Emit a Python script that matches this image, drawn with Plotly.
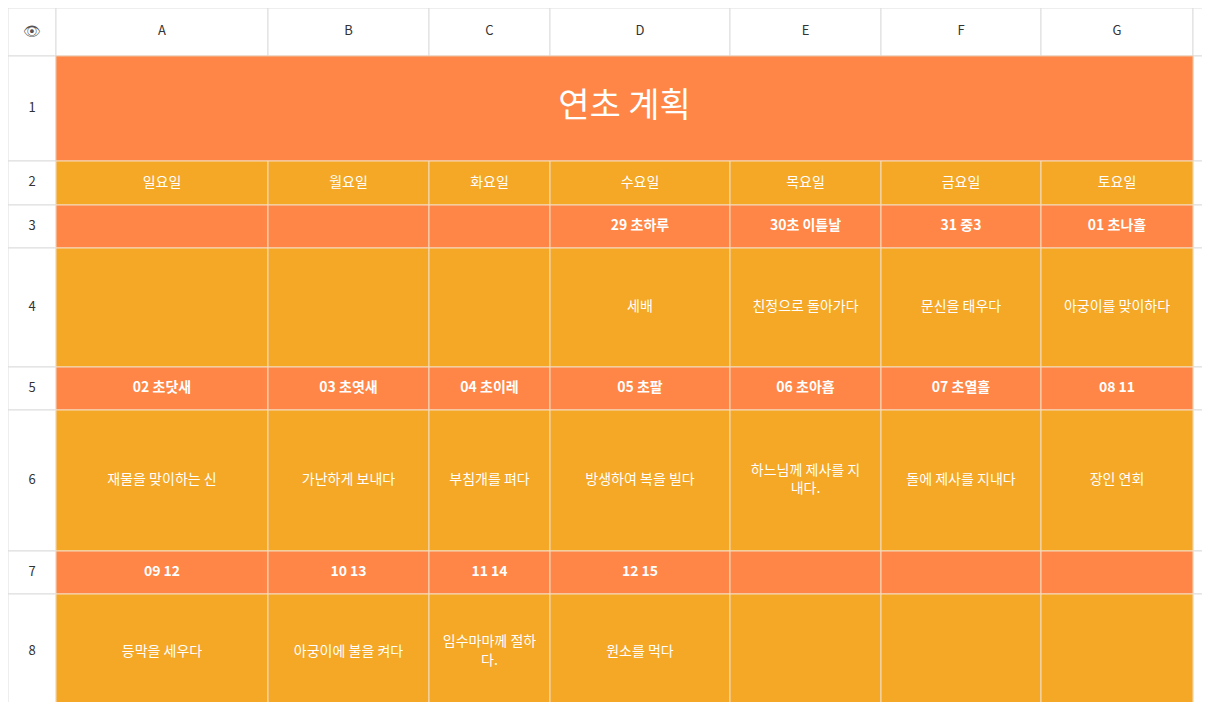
import plotly.graph_objects as go

W, H = 1210, 702
col_letters = ["A", "B", "C", "D", "E", "F", "G"]
row_numbers = ["1", "2", "3", "4", "5", "6", "7", "8"]
title = "연초 계획"
weekdays = ["일요일", "월요일", "화요일", "수요일", "목요일", "금요일", "토요일"]
date_rows = [
    ["", "", "", "29 초하루", "30초 이튿날", "31 중3", "01 초나흘"],
    ["02 초닷새", "03 초엿새", "04 초이레", "05 초팔", "06 초아흡", "07 초열흘", "08 11"],
    ["09 12", "10 13", "11 14", "12 15", "", "", ""],
]
event_rows = [
    ["", "", "", "세배", "친정으로 돌아가다", "문신을 태우다", "아궁이를 맞이하다"],
    ["재물을 맞이하는 신", "가난하게 보내다", "부침개를 펴다", "방생하여 복을 빌다",
     "하느님께 제사를 지<br>내다.", "돌에 제사를 지내다", "장인 연회"],
    ["등막을 세우다", "아궁이에 불을 켜다", "임수마마께 절하<br>다.", "원소를 먹다", "", "", ""],
]

xs = [0, 48, 260, 421, 542, 722, 873, 1033, 1185, 1210]
ys = [0, 48, 153, 197, 240, 359, 402, 543, 586, 702]
ORANGE, AMBER = "#FF8646", "#F4A825"
FONT = "Noto Sans CJK KR"

shapes = []
def rect(x0, y0, x1, y1, fill, line="#dddddd"):
    shapes.append(dict(type="rect", x0=x0, y0=y0, x1=x1, y1=y1, fillcolor=fill,
                       line=dict(color=line, width=1), layer="below"))

rect(0, 0, W, ys[1], "#ffffff")
for i in range(9):
    rect(xs[i], 0, xs[i + 1], ys[1], "#ffffff")
for r in range(8):
    rect(0, ys[r + 1], xs[1], ys[r + 2], "#ffffff")
    rect(xs[8], ys[r + 1], W, ys[r + 2], "#ffffff")
rect(xs[1], ys[1], xs[8], ys[2], ORANGE, "#f0c8a8")
for r in range(1, 8):
    fill = AMBER if r in (1, 3, 5, 7) else ORANGE
    for c in range(7):
        rect(xs[c + 1], ys[r + 1], xs[c + 2], ys[r + 2], fill, "#f3dcc0")

fig = go.Figure()
def texts(xv, yv, tv, size, color, bold=False):
    fig.add_trace(go.Scatter(x=xv, y=yv, text=[f"<b>{t}</b>" if bold and t else t for t in tv],
                             mode="text", textfont=dict(family=FONT, size=size, color=color),
                             hoverinfo="skip"))

cx = [(xs[i] + xs[i + 1]) / 2 for i in range(1, 8)]
cy = [(ys[i] + ys[i + 1]) / 2 for i in range(1, 9)]
texts([(xs[i] + xs[i + 1]) / 2 for i in range(1, 8)], [24] * 7, col_letters, 13, "#333333")
texts([24] * 8, cy, row_numbers, 13, "#333333")
texts([24], [24], ["👁"], 14, "#555555")
texts([(xs[1] + xs[8]) / 2], [cy[0]], [title], 34, "white")
texts(cx, [cy[1]] * 7, weekdays, 14, "white")
for k, r in enumerate([2, 4, 6]):
    texts(cx, [cy[r]] * 7, date_rows[k], 14, "white", bold=True)
    texts(cx, [cy[r + 1]] * 7, event_rows[k], 14, "white")

fig.update_layout(
    width=W, height=H, margin=dict(l=0, r=0, t=0, b=0), showlegend=False,
    plot_bgcolor="white", paper_bgcolor="white", shapes=shapes,
    xaxis=dict(range=[0, W], visible=False, fixedrange=True),
    yaxis=dict(range=[H, 0], visible=False, fixedrange=True),
)
fig.write_html("out.html", config={"displayModeBar": False})
